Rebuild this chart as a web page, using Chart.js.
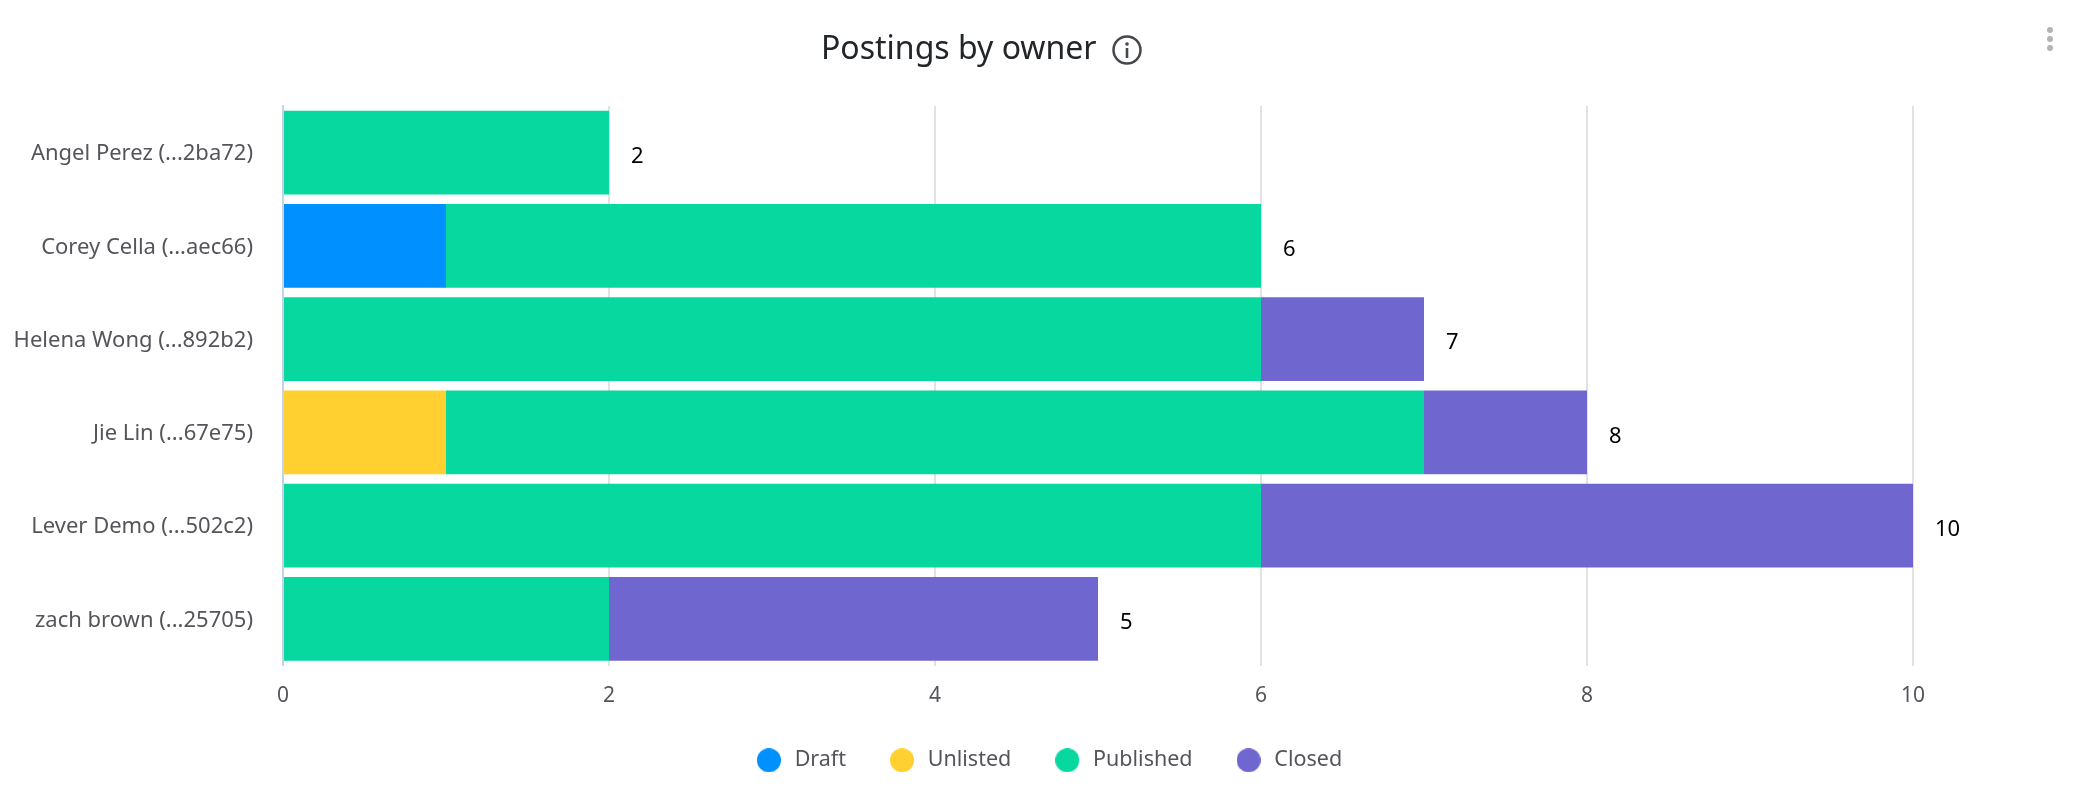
<!DOCTYPE html>
<html>
<head>
<meta charset="utf-8">
<title>Postings by owner</title>
<script src="https://cdn.jsdelivr.net/npm/chart.js@4/dist/chart.umd.min.js"></script>
<style>
  html, body { margin: 0; padding: 0; background: #fff; }
  #wrap { position: relative; width: 2094px; height: 810px; overflow: hidden; }
  #heading { position: absolute; left: 821px; top: 25px; font: 32px "Noto Sans", sans-serif; line-height: 44px; color: #22252a; white-space: nowrap; }
  #info { position: absolute; left: 1111px; top: 34px; }
  #menu { position: absolute; left: 2045px; top: 25px; }
</style>
</head>
<body>
<div id="wrap">
  <canvas id="ownerChart" width="2094" height="810"></canvas>
  <div id="heading">Postings by owner</div>
  <svg id="info" width="32" height="32" viewBox="0 0 32 32">
    <circle cx="16" cy="16" r="13.5" fill="none" stroke="#44474c" stroke-width="2.5"/>
    <circle cx="16" cy="10" r="1.8" fill="#44474c"/>
    <rect x="14.7" y="14" width="2.6" height="10" fill="#44474c"/>
  </svg>
  <svg id="menu" width="10" height="28" viewBox="0 0 10 28">
    <circle cx="5" cy="5" r="3" fill="#b3b3b3"/>
    <circle cx="5" cy="14" r="3" fill="#b3b3b3"/>
    <circle cx="5" cy="23" r="3" fill="#b3b3b3"/>
  </svg>
</div>
<script>
const owners = [
  "Angel Perez (...2ba72)",
  "Corey Cella (...aec66)",
  "Helena Wong (...892b2)",
  "Jie Lin (...67e75)",
  "Lever Demo (...502c2)",
  "zach brown (...25705)"
];
const draft = [0, 1, 0, 0, 0, 0];
const unlisted = [0, 0, 0, 1, 0, 0];
const published = [2, 5, 6, 6, 6, 2];
const closed = [0, 0, 1, 1, 4, 3];

const seriesNames = ["Draft", "Unlisted", "Published", "Closed"];
const seriesValues = [draft, unlisted, published, closed];
const seriesColors = ["#0090ff", "#ffd02f", "#07d8a0", "#7066cf"];

function dotMarker(color) {
  const c = document.createElement("canvas");
  c.width = 24;
  c.height = 24;
  const ctx = c.getContext("2d");
  ctx.fillStyle = color;
  ctx.beginPath();
  ctx.arc(12, 12, 12, 0, Math.PI * 2);
  ctx.fill();
  return c;
}

// total at the end of each stacked bar
const totalsPlugin = {
  id: "totals",
  afterLayout(chart) {
    // owner names sit in the side padding, so widen the area they are clipped to
    chart.scales.y.left = 0;
  },
  afterDatasetsDraw(chart) {
    const { ctx, scales } = chart;
    ctx.save();
    ctx.fillStyle = "#000";
    ctx.font = '22px "Noto Sans", sans-serif';
    ctx.textAlign = "left";
    ctx.textBaseline = "middle";
    owners.forEach((name, i) => {
      const total = seriesValues.reduce((sum, s) => sum + s[i], 0);
      ctx.fillText(total, scales.x.getPixelForValue(total) + 22, scales.y.getPixelForValue(i) + 4);
    });
    ctx.restore();
  }
};

new Chart(document.getElementById("ownerChart"), {
  type: "bar",
  data: {
    labels: owners,
    datasets: seriesNames.map((name, i) => ({
      label: name,
      data: seriesValues[i],
      backgroundColor: seriesColors[i],
      barPercentage: 0.9,
      categoryPercentage: 1
    }))
  },
  plugins: [totalsPlugin],
  options: {
    indexAxis: "y",
    responsive: false,
    animation: false,
    // equal side padding keeps the legend centred on the page
    layout: { padding: { top: 106, right: 181, bottom: 29, left: 183 } },
    scales: {
      x: {
        stacked: true,
        min: 0,
        max: 10,
        afterFit(scale) { scale.height = 43; },
        grid: {
          color: (c) => (c.tick.value === 0 ? "transparent" : "#e2e2e2"),
          lineWidth: 2,
          drawTicks: false
        },
        border: { display: false },
        ticks: {
          stepSize: 2,
          padding: 18,
          color: "#54555a",
          font: { family: "Noto Sans", size: 21 }
        }
      },
      y: {
        stacked: true,
        afterFit(scale) { scale.width = 100; },
        grid: { display: false, drawTicks: false },
        border: { display: true, color: "#c5d3e8", width: 2 },
        ticks: {
          padding: 30,
          labelOffset: 1.5,
          color: "#54555a",
          font: { family: "Noto Sans", size: 22 }
        }
      }
    },
    plugins: {
      title: { display: false },
      tooltip: { enabled: false },
      legend: {
        position: "bottom",
        labels: {
          usePointStyle: true,
          pointStyleWidth: 30,
          padding: 41,
          color: "#54555a",
          font: { family: "Noto Sans", size: 21.5 },
          generateLabels: (chart) => chart.data.datasets.map((d, i) => ({
            text: d.label,
            fontColor: "#54555a",
            pointStyle: dotMarker(seriesColors[i]),
            datasetIndex: i
          }))
        }
      }
    }
  }
});
</script>
</body>
</html>
